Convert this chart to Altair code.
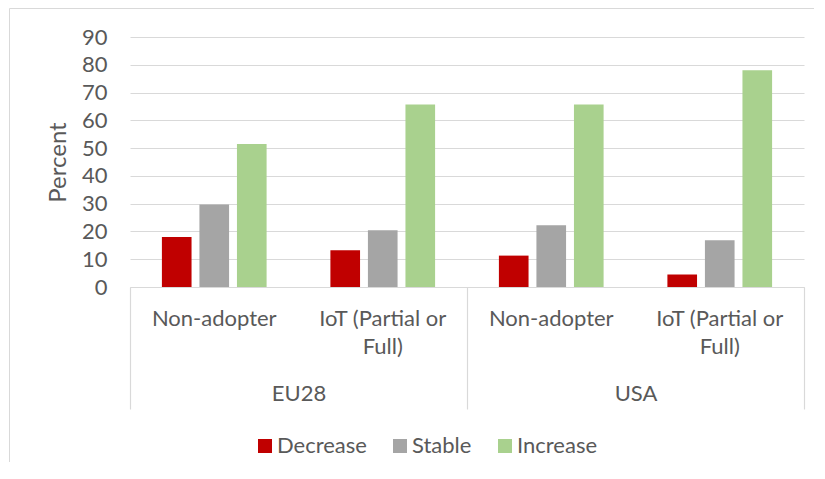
import altair as alt
import pandas as pd

regions = ["EU28", "EU28", "USA", "USA"]
groups = ["Non-adopter", "IoT (Partial or Full)", "Non-adopter", "IoT (Partial or Full)"]
series = ["Decrease", "Stable", "Increase"]
decrease = [18.0, 13.2, 11.3, 4.5]
stable = [29.7, 20.4, 22.2, 16.8]
increase = [51.5, 65.7, 65.7, 78.0]
colors = ["#C00000", "#A5A5A5", "#A9D18E"]
y_ticks = [0, 10, 20, 30, 40, 50, 60, 70, 80, 90]

keys = [f"{r}|{g}" for r, g in zip(regions, groups)]
rows = []
for name, vals in zip(series, [decrease, stable, increase]):
    for r, g, k, v in zip(regions, groups, keys, vals):
        rows.append({"region": r, "group": g, "key": k, "series": name, "value": v})
df = pd.DataFrame(rows)
region_df = pd.DataFrame({"region": ["EU28", "USA"]})

FONT = "Lato"
TXT = "#595959"
GRID = "#D9D9D9"
FS = 22

y_enc = alt.Y(
    "value:Q",
    scale=alt.Scale(domain=[0, 90], nice=False),
    axis=alt.Axis(
        values=y_ticks, tickCount=10, domain=False, ticks=False, tickSize=0,
        labelPadding=23, labelFontSize=FS, labelColor=TXT, gridColor=GRID,
        gridWidth=1, labelOverlap=False,
        title="Percent", titleFontSize=24, titleFontWeight="normal",
        titleColor=TXT, titlePadding=11,
    ),
)

bars = alt.Chart(df).mark_bar().encode(
    x=alt.X(
        "key:N", sort=keys,
        scale=alt.Scale(paddingInner=0, paddingOuter=0),
        axis=alt.Axis(
            title=None, orient="bottom", labelAngle=0, domain=False, ticks=False,
            tickSize=0, labelPadding=21, grid=False,
            labelOverlap=False,
            labelExpr="split(replace(split(datum.label, '|')[1], 'or ', 'or|'), '|')",
            labelLineHeight=28, labelFontSize=FS, labelColor=TXT,
        ),
    ),
    xOffset=alt.XOffset("series:N", sort=series,
                        scale=alt.Scale(paddingInner=0.21, paddingOuter=0.85)),
    y=y_enc,
    color=alt.Color(
        "series:N", sort=series,
        scale=alt.Scale(domain=series, range=colors),
        legend=alt.Legend(
            title=None, orient="none", legendX=124, legendY=398,
            direction="horizontal", symbolType="square", symbolSize=196,
            symbolStrokeWidth=0, symbolOpacity=1, labelFontSize=FS, labelColor=TXT,
            labelFont=FONT, columnPadding=22, labelOffset=1,
        ),
    ),
)

region_axis = alt.Chart(region_df).mark_point(opacity=0).encode(
    x=alt.X(
        "region:N", sort=["EU28", "USA"],
        scale=alt.Scale(paddingInner=0, paddingOuter=0),
        axis=alt.Axis(
            title=None, orient="bottom", labelAngle=0, domain=True,
            domainColor=GRID, domainWidth=1, ticks=True, tickBand="extent",
            tickSize=122, tickColor=GRID, tickWidth=1.2, labelPadding=-26,
            grid=False, labelFontSize=FS, labelColor=TXT,
        ),
    ),
)

frame_df = pd.DataFrame({"a": [0]})
frame_top = alt.Chart(frame_df).mark_rule(color=GRID, strokeWidth=1).encode(
    x=alt.value(-120.5), x2=alt.value(691), y=alt.value(-28.5)
)
frame_left = alt.Chart(frame_df).mark_rule(color=GRID, strokeWidth=1).encode(
    x=alt.value(-120.5), y=alt.value(-28.5), y2=alt.value(430)
)

chart = (
    alt.layer(bars, region_axis, frame_top, frame_left)
    .resolve_scale(x="independent")
    .properties(
        width=674, height=250,
        autosize=alt.AutoSizeParams(type="none"),
        padding={"left": 122, "top": 29, "right": 10, "bottom": 175},
    )
    .configure(
        font=FONT,
        view=alt.ViewConfig(stroke="transparent", strokeWidth=0, strokeOpacity=0),
        axis=alt.AxisConfig(labelFont=FONT, titleFont=FONT),
    )
)

chart.save("out.html", embed_options={"renderer": "svg", "actions": False})
